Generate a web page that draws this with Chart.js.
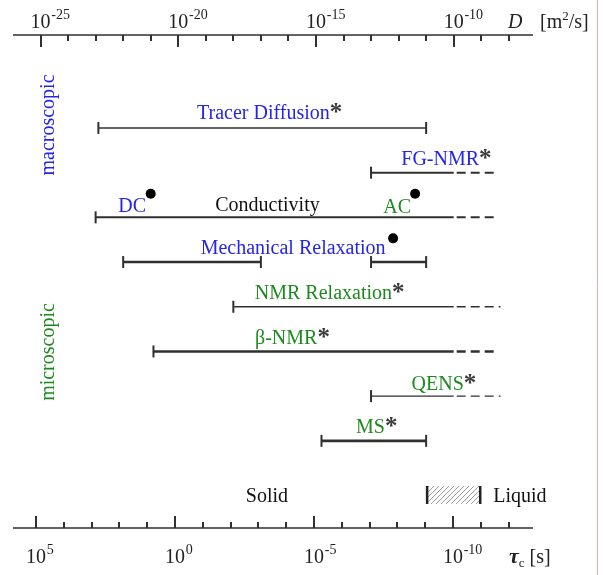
<!DOCTYPE html>
<html>
<head>
<meta charset="utf-8">
<script src="https://cdn.jsdelivr.net/npm/chart.js@4/dist/chart.umd.min.js"></script>
<style>
  html, body { margin: 0; padding: 0; background: #fff; overflow: hidden; }
  canvas { display: block; }
</style>
</head>
<body>
<canvas id="c" width="603" height="575"></canvas>
<script>
// Techniques and the diffusion-coefficient windows they cover (log10 of D in m^2/s).
const methods = ['Tracer Diffusion', 'FG-NMR', 'Conductivity', 'Mechanical Relaxation',
                 'NMR Relaxation', 'β-NMR', 'QENS', 'MS'];

// One entry per solid segment (Mechanical Relaxation has two windows).
const segMethod = [0, 1, 2, 3, 3, 4, 5, 6, 7];
const segFrom   = [-22.9, -13, -23, -22, -13, -18, -20.9, -13, -14.8];
const segTo     = [-11, -10, -10, -17, -11, -10, -10, -10, -11];
const segClosed = [true, false, false, true, true, false, false, false, true];
// Dashed continuation toward faster diffusion (null = none).
const extendTo  = [null, -8.4, -8.4, null, null, -8.3, -8.4, -8.3, null];

// Filled markers: DC and AC conductivity, mechanical relaxation.
const dotD      = [-21, -11.4, -12.2];
const dotMethod = [2, 2, 3];

// Solid/liquid boundary band (log10 D).
const liquidFrom = -11;
const liquidTo   = -9;

// Axis decades.
const dDecades      = [-25, -20, -15, -10];
const dTickLabels   = ['-25', '-20', '-15', '-10'];
const dTickSpan     = [-25, -8];
const tauDecades    = [5, 0, -5, -10];
const tauTickLabels = ['5', '0', '-5', '-10'];
const tauTickSpan   = [5, -12];

// ---- styling ----
const INK = '#303030';
const BLUE = '#2424ee';
const GREEN = '#1e8a1e';
const SERIF = "'Liberation Serif', 'DejaVu Serif', serif";
const lineWidths = [1.6, 2, 2, 2.6, 1.3, 2.6, 1.2, 2.6];
const dotLift = 0.53;          // markers sit above their row (in row units)
const bandRow = 8.21;          // row of the Solid / Liquid strip

// Label placement: centre (log10 D), row, baseline lift in px.
const labelPlacement = [
  { text: methods[0], color: BLUE,  at: -16.91, row: 0, lift: 9, star: true },
  { text: methods[1], color: BLUE,  at: -10.49, row: 1, lift: 8, star: true },
  { text: 'DC',       color: BLUE,  at: -21.67, row: 2, lift: 5 },
  { text: methods[2], color: '#111', at: -16.76, row: 2, lift: 6 },
  { text: 'AC',       color: GREEN, at: -12.05, row: 2, lift: 4 },
  { text: methods[3], color: BLUE,  at: -15.83, row: 3, lift: 8 },
  { text: methods[4], color: GREEN, at: -14.73, row: 4, lift: 8, star: true },
  { text: methods[5], color: GREEN, at: -16.08, row: 5, lift: 7, star: true },
  { text: methods[6], color: GREEN, at: -10.58, row: 6, lift: 6, star: true },
  { text: methods[7], color: GREEN, at: -13.02, row: 7, lift: 8, star: true }
];

const datasets = [];
segFrom.forEach((from, i) => {
  const row = segMethod[i];
  const lw = lineWidths[row];
  datasets.push({
    data: [{ x: 10 ** from, y: row }, { x: 10 ** segTo[i], y: row }],
    showLine: true,
    borderColor: INK,
    borderWidth: lw,
    pointStyle: 'line',
    rotation: 90,
    pointRadius: [6, segClosed[i] ? 6 : 0],
    pointBorderWidth: 2,
    pointBorderColor: INK,
    pointBackgroundColor: INK
  });
  if (extendTo[i] !== null) {
    datasets.push({
      data: [{ x: 10 ** segTo[i], y: row }, { x: 10 ** extendTo[i], y: row }],
      showLine: true,
      borderColor: INK,
      borderWidth: lw,
      borderDash: [9, 5],
      borderDashOffset: 11,
      pointRadius: 0
    });
  }
});
datasets.push({
  data: dotD.map((d, i) => ({ x: 10 ** d, y: dotMethod[i] - dotLift })),
  showLine: false,
  pointStyle: 'circle',
  pointRadius: 5,
  pointBackgroundColor: '#000',
  pointBorderColor: '#000',
  pointBorderWidth: 0
});

function drawRuns(ctx, runs, x, y) {
  // runs: [{text, font, dy}] drawn left to right starting at x
  let cx = x;
  runs.forEach(r => {
    ctx.font = r.font;
    ctx.fillText(r.text, cx, y + (r.dy || 0));
    cx += ctx.measureText(r.text).width;
  });
  return cx;
}

const overlay = {
  id: 'overlay',
  afterDatasetsDraw(chart) {
    const ctx = chart.ctx;
    const xs = chart.scales.x, ts = chart.scales.tau, ys = chart.scales.y;
    const ca = chart.chartArea;
    ctx.save();
    ctx.lineCap = 'butt';

    // axis lines
    ctx.strokeStyle = INK;
    ctx.lineWidth = 1.5;
    ctx.beginPath();
    ctx.moveTo(ca.left, ca.top); ctx.lineTo(ca.right, ca.top);
    ctx.moveTo(ca.left, ca.bottom); ctx.lineTo(ca.right, ca.bottom);
    ctx.stroke();

    // ticks on the D axis (top, pointing down)
    ctx.lineWidth = 2;
    ctx.beginPath();
    for (let e = dTickSpan[0]; e <= dTickSpan[1]; e++) {
      const px = Math.round(xs.getPixelForValue(10 ** e));
      const len = dDecades.includes(e) ? 12 : 6;
      ctx.moveTo(px, ca.top); ctx.lineTo(px, ca.top + len);
    }
    // ticks on the tau axis (bottom, pointing up)
    for (let e = tauTickSpan[0]; e >= tauTickSpan[1]; e--) {
      const px = Math.round(ts.getPixelForValue(10 ** e));
      const len = tauDecades.includes(e) ? 12 : 6;
      ctx.moveTo(px, ca.bottom); ctx.lineTo(px, ca.bottom - len);
    }
    ctx.stroke();

    // tick labels
    ctx.fillStyle = '#222';
    ctx.textBaseline = 'alphabetic';
    ctx.textAlign = 'left';
    const base = '20px ' + SERIF, sup = '14px ' + SERIF;
    dDecades.forEach((e, i) => {
      const px = xs.getPixelForValue(10 ** e);
      ctx.font = base;
      const w = ctx.measureText('10').width;
      drawRuns(ctx, [{ text: '10', font: base }, { text: ' ', font: '3px ' + SERIF },
                     { text: dTickLabels[i], font: sup, dy: -9 }], px - w / 2, 28);
    });
    tauDecades.forEach((e, i) => {
      const px = ts.getPixelForValue(10 ** e);
      ctx.font = base;
      const w = ctx.measureText('10').width;
      drawRuns(ctx, [{ text: '10', font: base }, { text: ' ', font: '3px ' + SERIF },
                     { text: tauTickLabels[i], font: sup, dy: -9 }], px - w / 2, 563);
    });

    // axis titles
    drawRuns(ctx, [{ text: 'D', font: 'italic 20px ' + SERIF }], 508, 28);
    drawRuns(ctx, [{ text: '[m', font: base }, { text: '2', font: '13px ' + SERIF, dy: -8 },
                   { text: '/s]', font: base }], 540, 28);
    drawRuns(ctx, [{ text: 'τ', font: 'italic bold 22px ' + SERIF },
                   { text: 'c', font: '13px ' + SERIF, dy: 4 },
                   { text: ' [s]', font: base }], 509, 563);

    // method labels
    labelPlacement.forEach(l => {
      ctx.font = '20px ' + SERIF;
      const w = ctx.measureText(l.text).width;
      const cx = xs.getPixelForValue(10 ** l.at);
      const by = ys.getPixelForValue(l.row) - l.lift;
      ctx.fillStyle = l.color;
      ctx.fillText(l.text, cx - w / 2, by);
      if (l.star) {
        ctx.fillStyle = '#3a3a3a';
        ctx.font = 'bold 25px ' + SERIF;
        ctx.fillText('*', cx + w / 2, by + 1);
      }
    });

    // group labels on the left
    ctx.font = '20px ' + SERIF;
    ctx.textAlign = 'center';
    [['macroscopic', BLUE, 125], ['microscopic', GREEN, 352]].forEach(([t, c, cy]) => {
      ctx.save();
      ctx.translate(54, cy);
      ctx.rotate(-Math.PI / 2);
      ctx.fillStyle = c;
      ctx.fillText(t, 0, 0);
      ctx.restore();
    });

    // Solid / Liquid strip
    const bandY = ys.getPixelForValue(bandRow);
    const lx0 = xs.getPixelForValue(10 ** liquidFrom);
    const lx1 = xs.getPixelForValue(10 ** liquidTo);
    ctx.fillStyle = '#111';
    ctx.textAlign = 'center';
    ctx.font = '20px ' + SERIF;
    ctx.fillText('Solid', xs.getPixelForValue(10 ** -16.78), bandY + 7);
    ctx.textAlign = 'left';
    ctx.fillText('Liquid', lx1 + 12, bandY + 7);

    ctx.save();
    ctx.beginPath();
    ctx.rect(lx0, bandY - 9, lx1 - lx0, 18);
    ctx.clip();
    ctx.strokeStyle = '#9a9a9a';
    ctx.lineWidth = 1;
    ctx.beginPath();
    for (let sx = lx0 - 20; sx < lx1 + 20; sx += 5) {
      ctx.moveTo(sx, bandY + 9);
      ctx.lineTo(sx + 18, bandY - 9);
    }
    ctx.stroke();
    ctx.restore();
    ctx.strokeStyle = '#222';
    ctx.lineWidth = 2.5;
    ctx.beginPath();
    ctx.moveTo(lx0 + 1, bandY - 9); ctx.lineTo(lx0 + 1, bandY + 9);
    ctx.moveTo(lx1 - 1, bandY - 9); ctx.lineTo(lx1 - 1, bandY + 9);
    ctx.stroke();

    // page edge rule
    ctx.strokeStyle = '#f3a9a9';
    ctx.lineWidth = 1;
    ctx.beginPath();
    ctx.moveTo(597.5, 0); ctx.lineTo(597.5, chart.height);
    ctx.stroke();

    ctx.restore();
  }
};

new Chart(document.getElementById('c'), {
  type: 'scatter',
  data: { datasets },
  options: {
    responsive: false,
    animation: false,
    events: [],
    devicePixelRatio: 1,
    layout: { padding: { left: 13, right: 70, top: 35, bottom: 47 } },
    plugins: { legend: { display: false }, tooltip: { enabled: false } },
    scales: {
      x:   { type: 'logarithmic', display: false, min: 10 ** -25.83, max: 10 ** -7.12 },
      tau: { type: 'logarithmic', axis: 'x', display: false, reverse: true,
             min: 10 ** -12.88, max: 10 ** 5.83 },
      y:   { type: 'linear', display: false, reverse: true, min: -2.08, max: 8.95 }
    }
  },
  plugins: [overlay]
});
</script>
</body>
</html>
